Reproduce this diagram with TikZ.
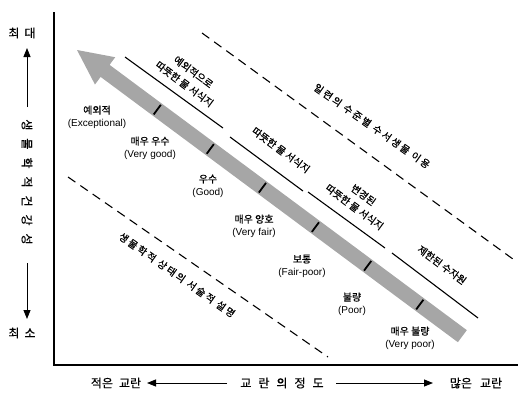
\documentclass[tikz,border=0pt]{standalone}
\usepackage{fontspec}
\setmainfont{Liberation Sans}
\newfontfamily\kr{Noto Sans CJK KR}[FakeBold=0.6]
\newfontfamily\krw{Noto Sans CJK KR}[LetterSpace=20,FakeBold=0.6]
\usetikzlibrary{arrows.meta}
\newcommand{\K}[1]{{\kr #1}}
\newcommand{\kg}{\hspace{8pt}}
\begin{document}
\begin{tikzpicture}[x=1pt,y=-1pt,
  lbl/.style={align=center, font=\fontsize{10}{12.5}\selectfont, inner sep=0pt},
  slab/.style={font=\fontsize{10}{15}\selectfont\kr, align=center, rotate=-36.5, inner sep=0pt},
  dlab/.style={font=\fontsize{10}{12.5}\selectfont\krw, rotate=-35, inner sep=0pt},
  axisline/.style={line width=1.8pt},
  seg/.style={line width=1.1pt},
  dline/.style={line width=1.1pt, dash pattern=on 9pt off 6pt},
  smallarr/.style={line width=0.9pt, -{Triangle[width=7pt,length=9pt]}},
  big/.style={font=\fontsize{12}{14}\selectfont\kr, inner sep=0pt},
  tickmark/.style={line width=1.8pt},
  bigarrow/.style={fill=black!35, draw=none}
]
\useasboundingbox (0,0) rectangle (522,399);

% axes
\coordinate (otop) at (54,12);
\coordinate (orig) at (54,365);
\coordinate (xend) at (518,365);
\draw[axisline] (otop) -- (orig) -- (xend);

% big gradient arrow
\begin{scope}[shift={(77,50)}, rotate=-36.6]
  \fill[bigarrow] (0,0) -- (35,-17) -- (35,-7.5) -- (480,-7.5) -- (480,7.5) -- (35,7.5) -- (35,17) -- cycle;
  \foreach \t in {100,166,231,297,362,427}{
    \draw[tickmark] (\t,-6) -- (\t,6);
  }
\end{scope}

% solid segments
\coordinate (s1a) at (125,57);  \coordinate (s1b) at (223,128);
\coordinate (s2a) at (230,137); \coordinate (s2b) at (303,191);
\coordinate (s3a) at (308,192); \coordinate (s3b) at (385,248);
\coordinate (s4a) at (392,253); \coordinate (s4b) at (478,318);
\draw[seg] (s1a) -- (s1b);
\draw[seg] (s2a) -- (s2b);
\draw[seg] (s3a) -- (s3b);
\draw[seg] (s4a) -- (s4b);
\node[slab] (t1) at (189,78) {예외적으로\\따뜻한 물 서식지};
\node[slab] (t2) at (281,150) {따뜻한 물 서식지};
\node[slab] (t3) at (359,201) {변경된\\따뜻한 물 서식지};
\node[slab] (t4) at (442,265) {제한된 수자원};

% dashed lines
\coordinate (d1a) at (202,33);  \coordinate (d1b) at (517,262);
\coordinate (d2a) at (68,177);  \coordinate (d2b) at (328,357);
\draw[dline] (d1a) -- (d1b);
\draw[dline] (d2a) -- (d2b);
\node[dlab] (u1) at (372,126) {일련의 수준별 수서생물 이용};
\node[dlab] (u2) at (177,275) {생물학적 상태의 서술적 설명};

% quality labels
\node[lbl] (q1) at (97,117) {\K{예외적}\\(Exceptional)};
\node[lbl] (q2) at (150,148) {\K{매우 우수}\\(Very good)};
\node[lbl] (q3) at (208,186) {\K{우수}\\(Good)};
\node[lbl] (q4) at (254,226) {\K{매우 양호}\\(Very fair)};
\node[lbl] (q5) at (302,266) {\K{보통}\\(Fair-poor)};
\node[lbl] (q6) at (352,304) {\K{불량}\\(Poor)};
\node[lbl] (q7) at (410,338) {\K{매우 불량}\\(Very poor)};

% left column
\node[big] (maxl) at (22,33) {최\hspace{5pt}대};
\node[big] (minl) at (22,333) {최\hspace{5pt}소};
\coordinate (ua0) at (27,107); \coordinate (ua1) at (27,48);
\draw[smallarr] (ua0) -- (ua1);
\node[big, rotate=-90] (vlab) at (27,182) {생\kg 물\kg 학\kg 적\kg 건\kg 강\kg 성};
\coordinate (da0) at (27,263); \coordinate (da1) at (27,319);
\draw[smallarr] (da0) -- (da1);

% bottom row
\node[big] (few) at (116,383) {적은\hspace{6pt}교란};
\node[big] (deg) at (282,383) {교\hspace{7pt}란\hspace{7pt}의\hspace{7pt}정\hspace{7pt}도};
\node[big] (many) at (476,383) {많은\hspace{8pt}교란};
\coordinate (la0) at (227,383); \coordinate (la1) at (147,383);
\coordinate (ra0) at (336,383); \coordinate (ra1) at (433,383);
\draw[smallarr] (la0) -- (la1);
\draw[smallarr] (ra0) -- (ra1);
\end{tikzpicture}
\end{document}
